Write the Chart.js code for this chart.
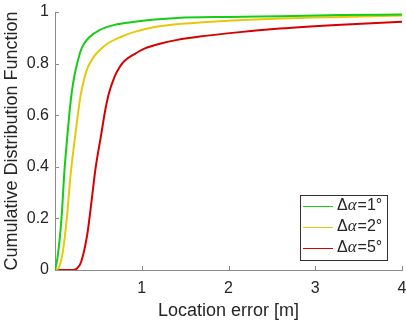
<!DOCTYPE html>
<html>
<head>
<meta charset="utf-8">
<script src="https://cdn.jsdelivr.net/npm/chart.js@4.4.0/dist/chart.umd.min.js"></script>
<style>
  html, body { margin: 0; padding: 0; background: #fff; }
  canvas { display: block; }
</style>
</head>
<body>
<canvas id="cdfChart" width="406" height="322"></canvas>
<script>
// Données (erreur en m, valeur de la CDF)
const greenX = [0, 0.03, 0.075, 0.11, 0.14, 0.167, 0.194, 0.225, 0.263, 0.294, 0.333, 0.398, 0.513, 0.686, 0.917, 1.15, 1.41, 2.0, 2.6, 3.3, 4.0];
const greenY = [0, 0.05, 0.2, 0.39, 0.51, 0.61, 0.69, 0.755, 0.81, 0.848, 0.876, 0.903, 0.93, 0.95, 0.962, 0.971, 0.977, 0.981, 0.984, 0.988, 0.99];

const yellowX = [0, 0.045, 0.09, 0.136, 0.18, 0.225, 0.263, 0.294, 0.34, 0.379, 0.448, 0.513, 0.609, 0.763, 0.917, 1.15, 1.41, 1.7, 2.0, 2.6, 3.3, 4.0];
const yellowY = [0, 0.01, 0.07, 0.2, 0.37, 0.5, 0.6, 0.675, 0.745, 0.786, 0.827, 0.852, 0.878, 0.904, 0.923, 0.942, 0.953, 0.96, 0.966, 0.975, 0.981, 0.986];

const redX = [0, 0.2, 0.25, 0.3, 0.37, 0.42, 0.467, 0.53, 0.579, 0.621, 0.686, 0.744, 0.8, 0.917, 1.03, 1.22, 1.41, 1.67, 2.13, 2.59, 3.3, 4.0];
const redY = [0, 0, 0.005, 0.03, 0.134, 0.263, 0.393, 0.52, 0.619, 0.684, 0.749, 0.786, 0.81, 0.837, 0.858, 0.878, 0.892, 0.905, 0.922, 0.936, 0.951, 0.962];

const seriesLabels = ['1°', '2°', '5°'];
const seriesColors = ['rgb(20, 205, 20)', 'rgb(232, 200, 10)', 'rgb(215, 0, 0)'];

const xTicks = [1, 2, 3, 4];
const yTicks = [0, 0.2, 0.4, 0.6, 0.8, 1];

const textColor = '#262626';
const axisColor = '#8a8a8a';

function toPoints(xs, ys) {
    return xs.map((x, i) => ({ x: x, y: ys[i] }));
}

// Petites graduations tournées vers l'intérieur (style MATLAB)
const inwardTicks = {
    id: 'inwardTicks',
    afterDraw(chart) {
        const ctx = chart.ctx;
        const area = chart.chartArea;
        const sx = chart.scales.x, sy = chart.scales.y;
        ctx.save();
        ctx.strokeStyle = axisColor;
        ctx.lineWidth = 1;
        ctx.beginPath();
        yTicks.forEach(v => {
            const py = Math.round(sy.getPixelForValue(v)) + 0.5;
            ctx.moveTo(area.left, py);
            ctx.lineTo(area.left + 4, py);
        });
        xTicks.forEach(v => {
            const px = Math.round(sx.getPixelForValue(v)) + 0.5;
            ctx.moveTo(px, area.bottom);
            ctx.lineTo(px, area.bottom - 4);
        });
        ctx.stroke();
        ctx.restore();
    }
};

// Légende encadrée en bas à droite
const boxLegend = {
    id: 'boxLegend',
    afterDraw(chart) {
        const ctx = chart.ctx;
        const area = chart.chartArea;
        const w = 87, h = 65;
        const left = area.right - 15 - w;
        const top = area.bottom - 10 - h;
        ctx.save();
        ctx.fillStyle = '#fff';
        ctx.fillRect(left, top, w, h);
        ctx.strokeStyle = '#333';
        ctx.lineWidth = 1;
        ctx.strokeRect(Math.round(left) + 0.5, Math.round(top) + 0.5, w, h);
        chart.data.datasets.forEach((ds, i) => {
            const y = top + 11 + i * 21;
            ctx.strokeStyle = ds.borderColor;
            ctx.beginPath();
            ctx.moveTo(left + 3, Math.round(y) + 0.5);
            ctx.lineTo(left + 33, Math.round(y) + 0.5);
            ctx.stroke();
            ctx.fillStyle = textColor;
            ctx.textBaseline = 'middle';
            let x = left + 37;
            ctx.font = '16px "Liberation Sans", Arial, sans-serif';
            ctx.fillText('Δ', x, y);
            x += ctx.measureText('Δ').width;
            ctx.font = 'italic 17px "Liberation Serif", "Times New Roman", serif';
            ctx.fillText('α', x, y);
            x += ctx.measureText('α').width + 1;
            ctx.font = '16px "Liberation Sans", Arial, sans-serif';
            ctx.fillText('=' + seriesLabels[i], x, y);
        });
        ctx.restore();
    }
};

const ctx = document.getElementById('cdfChart').getContext('2d');
new Chart(ctx, {
    type: 'line',
    data: {
        datasets: [
            { label: 'Δα=' + seriesLabels[0], data: toPoints(greenX, greenY), borderColor: seriesColors[0] },
            { label: 'Δα=' + seriesLabels[1], data: toPoints(yellowX, yellowY), borderColor: seriesColors[1] },
            { label: 'Δα=' + seriesLabels[2], data: toPoints(redX, redY), borderColor: seriesColors[2] }
        ]
    },
    options: {
        responsive: false,
        animation: false,
        devicePixelRatio: 1,
        layout: { padding: { top: 12, right: 4, left: 0, bottom: 0 } },
        elements: {
            point: { radius: 0 },
            line: { borderWidth: 2, cubicInterpolationMode: 'monotone', fill: false }
        },
        plugins: {
            legend: { display: false },
            tooltip: { enabled: false }
        },
        scales: {
            x: {
                type: 'linear',
                min: 0,
                max: 4,
                afterBuildTicks: s => { s.ticks = xTicks.map(v => ({ value: v })); },
                afterFit: s => { s.height = 52; s.paddingLeft = 0; s.paddingRight = 0; },
                grid: { display: true, drawOnChartArea: false, drawTicks: false },
                border: { display: true, color: axisColor, width: 1 },
                ticks: {
                    color: textColor,
                    padding: 9,
                    maxRotation: 0,
                    font: { family: '"Liberation Sans", Arial, sans-serif', size: 16 },
                    callback: v => String(v)
                },
                title: {
                    display: true,
                    text: 'Location error [m]',
                    color: textColor,
                    padding: 0,
                    font: { family: '"Liberation Sans", Arial, sans-serif', size: 18 }
                }
            },
            y: {
                type: 'linear',
                min: 0,
                max: 1,
                afterBuildTicks: s => { s.ticks = yTicks.map(v => ({ value: v })); },
                afterFit: s => { s.width = 55; s.paddingTop = 0; s.paddingBottom = 0; },
                grid: { display: true, drawOnChartArea: false, drawTicks: false },
                border: { display: true, color: axisColor, width: 1 },
                ticks: {
                    color: textColor,
                    padding: 6,
                    font: { family: '"Liberation Sans", Arial, sans-serif', size: 16 },
                    callback: v => String(v)
                },
                title: {
                    display: true,
                    text: 'Cumulative Distribution Function',
                    color: textColor,
                    padding: 1,
                    font: { family: '"Liberation Sans", Arial, sans-serif', size: 18 }
                }
            }
        }
    },
    plugins: [inwardTicks, boxLegend]
});
</script>
</body>
</html>
